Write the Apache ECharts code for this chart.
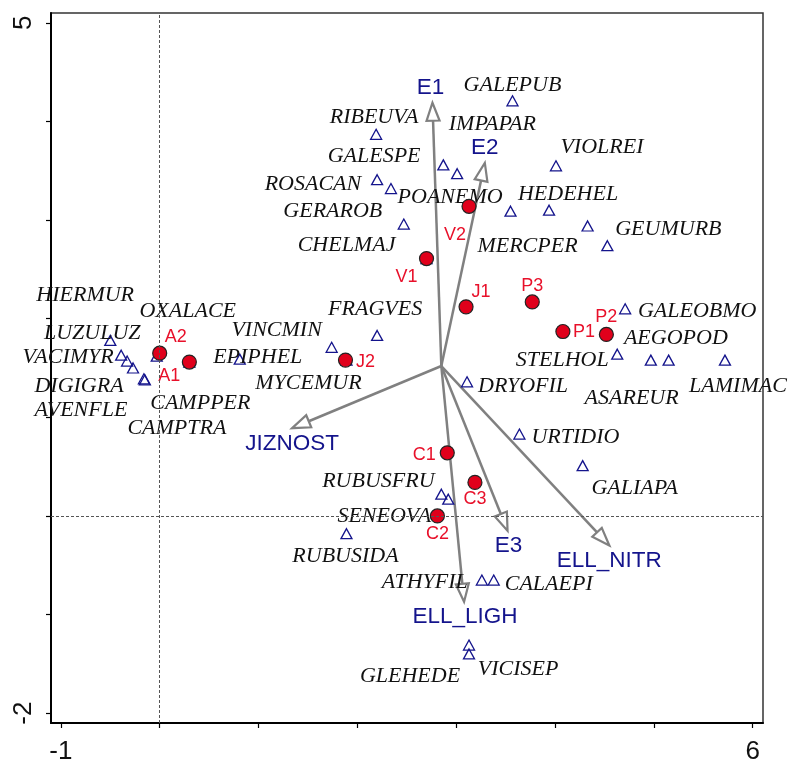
<!DOCTYPE html>
<html>
<head>
<meta charset="utf-8">
<script src="https://cdn.jsdelivr.net/npm/echarts@6/dist/echarts.min.js"></script>
<style>
  html, body { margin: 0; padding: 0; background: #fff; }
  #chart { width: 792px; height: 765px; }
</style>
</head>
<body>
<div id="chart"></div>
<script>
// ---- axes ----
const xTicks = [-1, 0, 1, 2, 3, 4, 5, 6];
const yTicks = [-2, -1, 0, 1, 2, 3, 4, 5];
const xTickLabels = [-1, 6];
const yTickLabels = [-2, 5];

// ---- samples (relevés) ----
const sampleNames = ['A2', 'A1', 'J2', 'J1', 'P3', 'P1', 'P2', 'C1', 'C3', 'C2', 'V1', 'V2'];
const sampleX = [0.00, 0.30, 1.88, 3.10, 3.77, 4.08, 4.52, 2.91, 3.19, 2.81, 2.70, 3.13];
const sampleY = [1.65, 1.56, 1.58, 2.12, 2.17, 1.87, 1.84, 0.64, 0.34, 0.00, 2.61, 3.14];

// ---- species ----
const speciesNames = [
  'RIBEUVA', 'GALESPE', 'ROSACAN', 'GERAROB', 'CHELMAJ', 'IMPAPAR', 'POANEMO',
  'GALEPUB', 'VIOLREI', 'MERCPER', 'HEDEHEL', 'GEUMURB', '',
  'GALEOBMO', 'STELHOL', 'AEGOPOD', 'ASAREUR', 'LAMIMAC', 'DRYOFIL', 'URTIDIO', 'GALIAPA',
  'LUZULUZ', 'HIERMUR', 'VACIMYR', 'DIGIGRA', 'AVENFLE', 'OXALACE', 'CAMPPER', 'CAMPTRA',
  'EPIPHEL', 'VINCMIN', 'MYCEMUR', 'FRAGVES',
  'RUBUSFRU', 'SENEOVA', 'RUBUSIDA', 'ATHYFIL', 'CALAEPI', 'VICISEP', 'GLEHEDE'
];
const speciesX = [
  2.19, 2.20, 2.34, 2.47, 2.70, 2.87, 3.01,
  3.57, 4.01, 3.55, 3.94, 4.53, 4.33,
  4.71, 4.63, 4.97, 5.15, 5.72, 3.11, 3.64, 4.28,
  -0.50, -0.39, -0.33, -0.27, -0.16, -0.03, 0.30, -0.15,
  0.81, 1.74, 1.89, 2.20,
  2.85, 2.92, 1.89, 3.26, 3.38, 3.13, 3.13
];
const speciesY = [
  3.87, 3.41, 3.32, 2.96, 2.61, 3.56, 3.47,
  4.21, 3.55, 3.09, 3.10, 2.74, 2.94,
  2.10, 1.64, 1.58, 1.58, 1.58, 1.36, 0.83, 0.51,
  1.78, 1.63, 1.57, 1.50, 1.39, 1.62, 1.56, 1.38,
  1.59, 1.71, 1.58, 1.83,
  0.22, 0.17, -0.18, -0.65, -0.65, -1.31, -1.40
];

// ---- environmental variables (arrows from a common origin) ----
const envOrigin = [2.85, 1.52];
const envNames = ['E1', 'E2', 'JIZNOST', 'ELL_LIGH', 'E3', 'ELL_NITR'];
const envX = [2.76, 3.29, 1.34, 3.08, 3.52, 4.55];
const envY = [4.19, 3.58, 0.89, -0.87, -0.15, -0.30];

// ---- label placement (pixel offsets from each mark) ----
const sampleLabelOffset = {
  A2: [16, -16], A1: [-20, 14], J2: [20, 2], J1: [15, -15], P3: [0, -16], P1: [21, 1],
  P2: [0, -17], C1: [-23, 2], C3: [0, 17], C2: [0, 18], V1: [-20, 18], V2: [-14, 29]
};
const speciesLabelOffset = {
  RIBEUVA: [-2, -17], GALESPE: [-3, -23], ROSACAN: [-78, -4], GERAROB: [-71, -13],
  CHELMAJ: [-80, -13], IMPAPAR: [49, -41], POANEMO: [-7, 23],
  GALEPUB: [0, -16], VIOLREI: [46, -19], MERCPER: [17, 35], HEDEHEL: [19, -16],
  GEUMURB: [61, -17],
  GALEOBMO: [72, 2], STELHOL: [-55, 6], AEGOPOD: [25, -22], ASAREUR: [-37, 38],
  LAMIMAC: [13, 26], DRYOFIL: [56, 4], URTIDIO: [56, 3], GALIAPA: [52, 23],
  LUZULUZ: [-18, -7], HIERMUR: [-36, -60], VACIMYR: [-59, -4], DIGIGRA: [-54, 18],
  AVENFLE: [-63, 31], OXALACE: [31, -45], CAMPPER: [11, 41], CAMPTRA: [32, 48],
  EPIPHEL: [18, -2], VINCMIN: [-55, -17], MYCEMUR: [-38, 23], FRAGVES: [-2, -26],
  RUBUSFRU: [-63, -13], SENEOVA: [-64, 17], RUBUSIDA: [-1, 23], ATHYFIL: [-57, 2],
  CALAEPI: [55, 4], VICISEP: [49, 24], GLEHEDE: [-59, 22]
};
const envLabelOffset = {
  E1: [-2, -15], E2: [0, -15], JIZNOST: [0, 16], ELL_LIGH: [1, 15], E3: [1, 15], ELL_NITR: [0, 15]
};

const SANS = '"Liberation Sans", Arial, Helvetica, sans-serif';
const SERIF = '"Liberation Serif", "Times New Roman", Times, serif';
const ARROW_GREY = '#808080';
const NAVY = '#14148c';

const chart = echarts.init(document.getElementById('chart'), null, { renderer: 'canvas' });

const option = {
  animation: false,
  backgroundColor: '#ffffff',
  grid: {
    left: 51, right: 29, top: 13, bottom: 41,
    show: true, borderColor: '#333', borderWidth: 1.5, backgroundColor: 'transparent'
  },
  xAxis: {
    type: 'value', min: -1.1, max: 6.105,
    splitLine: { show: false },
    axisLine: { show: true, onZero: false, lineStyle: { color: '#000', width: 2 } },
    axisTick: { show: true, inside: false, length: 5, customValues: xTicks, lineStyle: { color: '#000', width: 1.2 } },
    axisLabel: {
      show: true, customValues: xTickLabels, margin: 16,
      fontSize: 26, fontFamily: SANS, color: '#111'
    }
  },
  yAxis: {
    type: 'value', min: -2.1, max: 5.1,
    splitLine: { show: false },
    axisLine: { show: true, onZero: false, lineStyle: { color: '#000', width: 2 } },
    axisTick: { show: true, inside: false, length: 5, customValues: yTicks, lineStyle: { color: '#000', width: 1.2 } },
    axisLabel: {
      show: true, customValues: yTickLabels, margin: 14, rotate: 90,
      fontSize: 26, fontFamily: SANS, color: '#111'
    }
  },
  series: [
    {
      // environmental arrows
      type: 'custom',
      coordinateSystem: 'cartesian2d',
      z: 2,
      silent: true,
      data: envNames.map((n, i) => [envOrigin[0], envOrigin[1], envX[i], envY[i]]),
      encode: { x: [0, 2], y: [1, 3] },
      renderItem: function (params, api) {
        const i = params.dataIndex;
        const p0 = api.coord([api.value(0), api.value(1)]);
        const p1 = api.coord([api.value(2), api.value(3)]);
        const dx = p1[0] - p0[0], dy = p1[1] - p0[1];
        const len = Math.hypot(dx, dy);
        const ux = dx / len, uy = dy / len;
        const L = 18, W = 6.5;
        const bx = p1[0] - ux * L, by = p1[1] - uy * L;
        const nx = -uy, ny = ux;
        const name = envNames[i];
        const off = envLabelOffset[name] || [0, 0];
        return {
          type: 'group',
          children: [
            { type: 'line', shape: { x1: p0[0], y1: p0[1], x2: bx, y2: by },
              style: { stroke: ARROW_GREY, lineWidth: 2.5 } },
            { type: 'polygon',
              shape: { points: [[p1[0], p1[1]], [bx + nx * W, by + ny * W], [bx - nx * W, by - ny * W]] },
              style: { fill: 'none', stroke: ARROW_GREY, lineWidth: 2.2, lineJoin: 'miter' } },
            { type: 'text', x: p1[0] + off[0], y: p1[1] + off[1],
              style: { text: name, fill: NAVY, fontSize: 22.5, fontFamily: SANS,
                       align: 'center', verticalAlign: 'middle' } }
          ]
        };
      }
    },
    {
      // species
      type: 'scatter',
      z: 3,
      silent: true,
      symbol: 'triangle',
      symbolSize: [11, 10],
      itemStyle: { color: 'rgba(255,255,255,0)', borderColor: NAVY, borderWidth: 1.3, opacity: 1 },
      data: speciesNames.map((n, i) => ({
        name: n,
        value: [speciesX[i], speciesY[i]],
        label: { show: n !== '', offset: speciesLabelOffset[n] || [0, 0] }
      })),
      label: {
        show: true, position: 'inside', formatter: '{b}',
        fontFamily: SERIF, fontStyle: 'italic', fontSize: 22, color: '#111'
      },
      markLine: {
        silent: true, symbol: 'none', animation: false,
        label: { show: false },
        lineStyle: { type: [3, 2], color: '#555', width: 1 },
        data: [{ xAxis: 0 }, { yAxis: 0 }]
      }
    },
    {
      // samples
      type: 'scatter',
      z: 4,
      silent: true,
      symbol: 'circle',
      symbolSize: 14,
      itemStyle: { color: '#e0001b', borderColor: '#222', borderWidth: 1.2, opacity: 1 },
      data: sampleNames.map((n, i) => ({
        name: n,
        value: [sampleX[i], sampleY[i]],
        label: { offset: sampleLabelOffset[n] || [0, 0] }
      })),
      label: {
        show: true, position: 'inside', formatter: '{b}',
        fontFamily: SANS, fontSize: 18, color: '#e8102a'
      }
    }
  ]
};

chart.setOption(option);
</script>
</body>
</html>
